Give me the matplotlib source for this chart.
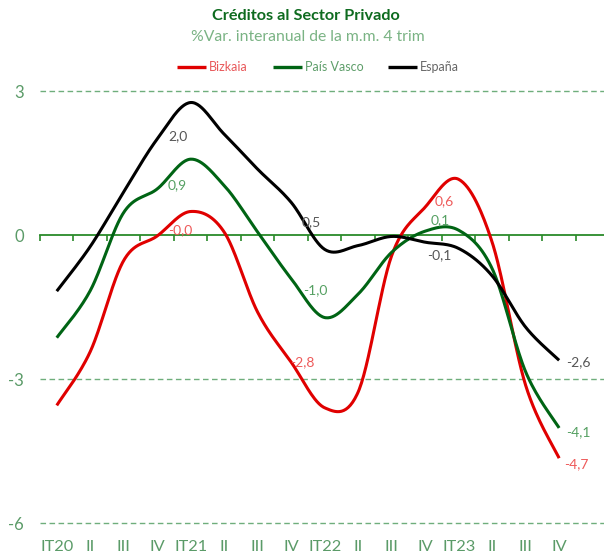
import numpy as np
import matplotlib
matplotlib.use("Agg")
import matplotlib.pyplot as plt

plt.rcParams['font.family'] = ['Lato', 'DejaVu Sans']
plt.rcParams['axes.unicode_minus'] = False

categories = ["IT20", "II", "III", "IV", "IT21", "II", "III", "IV",
              "IT22", "II", "III", "IV", "IT23", "II", "III", "IV"]

bizkaia = [-3.55, -2.43, -0.53, -0.02, 0.49, 0.06, -1.61, -2.65,
           -3.60, -3.27, -0.43, 0.58, 1.16, -0.15, -3.13, -4.65]
pais_vasco = [-2.14, -1.16, 0.47, 0.96, 1.58, 1.03, 0.06, -0.91,
              -1.72, -1.23, -0.36, 0.08, 0.10, -0.70, -2.85, -4.02]
espana = [-1.17, -0.24, 0.90, 2.00, 2.76, 2.10, 1.37, 0.68,
          -0.30, -0.22, -0.03, -0.15, -0.28, -0.85, -1.92, -2.61]

series_names = ["Bizkaia", "País Vasco", "España"]

# data labels: (x position, text, y position)
label_bizkaia = [(3.32, "-0,0", 0.11), (6.96, "-2,8", -2.65), (11.29, "0,6", 0.71), (15.15, "-4,7", -4.78)]
label_pv = [(3.32, "0,9", 1.04), (7.35, "-1,0", -1.14), (11.17, "0,1", 0.30), (15.2, "-4,1", -4.10)]
label_es = [(3.32, "2,0", 2.06), (7.31, "0,5", 0.27), (11.07, "-0,1", -0.42), (15.22, "-2,6", -2.65)]

line_colors = ['#e00000', '#006414', '#000000']
label_colors = ['#ee5a5a', '#55a062', '#555555']


def smooth(y, n=30):
    y = np.asarray(y, float)
    x = np.arange(len(y), dtype=float)
    xs, ys = [], []
    for i in range(len(y) - 1):
        p0 = (x[i - 1] if i > 0 else x[i], y[i - 1] if i > 0 else y[i])
        p1 = (x[i], y[i])
        p2 = (x[i + 1], y[i + 1])
        p3 = (x[i + 2], y[i + 2]) if i + 2 < len(y) else (x[i + 1], y[i + 1])
        c1 = (p1[0] + (p2[0] - p0[0]) / 6, p1[1] + (p2[1] - p0[1]) / 6)
        c2 = (p2[0] - (p3[0] - p1[0]) / 6, p2[1] - (p3[1] - p1[1]) / 6)
        t = np.linspace(0, 1, n, endpoint=(i == len(y) - 2))
        b0 = (1 - t) ** 3
        b1 = 3 * (1 - t) ** 2 * t
        b2 = 3 * (1 - t) * t ** 2
        b3 = t ** 3
        xs.append(b0 * p1[0] + b1 * c1[0] + b2 * c2[0] + b3 * p2[0])
        ys.append(b0 * p1[1] + b1 * c1[1] + b2 * c2[1] + b3 * p2[1])
    return np.concatenate(xs), np.concatenate(ys)


fig = plt.figure(figsize=(6.04, 5.55), dpi=100)
ax = fig.add_axes([40 / 604, 1 - 523 / 555, 564 / 604, (523 - 91) / 555])
ax.set_xlim(-0.5, 16.34)
ax.set_ylim(-6, 3)

grid_color = '#6fae7c'
for yv in [3, -3, -6]:
    ax.axhline(yv, color=grid_color, lw=1.0, ls=(0, (4, 2.5)), zorder=1, clip_on=False)

# zero axis as bottom spine
for s in ['top', 'right', 'left']:
    ax.spines[s].set_visible(False)
ax.spines['bottom'].set_position(('data', 0))
ax.spines['bottom'].set_color('#2a8a2a')
ax.spines['bottom'].set_linewidth(1.3)
ax.spines['bottom'].set_zorder(2)
ax.set_xticks(np.arange(-0.5, 16, 1.0))
ax.set_xticklabels([])
ax.tick_params(axis='x', direction='out', length=4, width=1.2, color='#2a8a2a')

tick_color = '#5b9b68'
ax.set_yticks([3, 0, -3, -6])
ax.set_yticklabels(["3", "0", "-3", "-6"])
ax.tick_params(axis='y', length=0, pad=11.5, labelsize=12, labelcolor=tick_color)

for k, c in enumerate(categories):
    ax.annotate(c, xy=(k, 0), xycoords=('data', 'axes fraction'),
                xytext=(0, -17.5), textcoords='offset points',
                ha='center', va='center', fontsize=11.8, color=tick_color)

all_series = [bizkaia, pais_vasco, espana]
handles = []
for vals, col, name in zip(all_series, line_colors, series_names):
    xs, ys = smooth(vals)
    h, = ax.plot(xs, ys, color=col, lw=2.2, solid_capstyle='butt', zorder=3, label=name)
    handles.append(h)

for labs, col in zip([label_bizkaia, label_pv, label_es], label_colors):
    for xp, txt, yp in labs:
        ax.text(xp, yp, txt, color=col, fontsize=10, ha='left', va='center', zorder=4)

fig.text(0.507, 0.971, "Créditos al Sector Privado", ha='center', va='center',
         fontsize=11.7, fontweight='bold', color='#0e6b1f')
fig.text(0.51, 0.933, "%Var. interanual de la m.m. 4 trim", ha='center', va='center',
         fontsize=11.3, color='#7ab384')

leg = fig.legend(handles=handles, labels=series_names, loc='center',
                 bbox_to_anchor=(0.527, 0.879), ncol=3, frameon=False,
                 fontsize=9, handlelength=2.3, handletextpad=0.25,
                 columnspacing=2.0, borderaxespad=0)
for t, c in zip(leg.get_texts(), ['#e8585a', '#5e9e6a', '#666666']):
    t.set_color(c)
for l in leg.get_lines():
    l.set_linewidth(2.4)

fig.savefig("out.png", dpi=100)
